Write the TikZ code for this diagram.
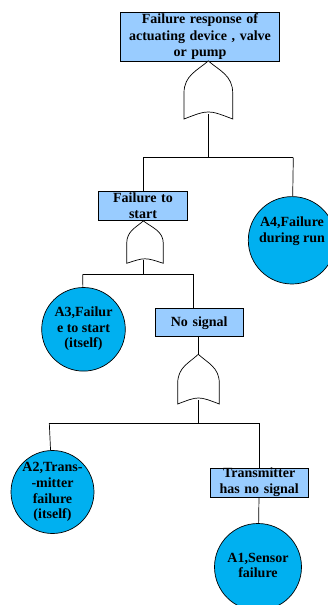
\documentclass[tikz,border=0pt]{standalone}
\usepackage{fontspec}
\setmainfont{Liberation Serif}
\usetikzlibrary{calc}
\definecolor{boxblue}{RGB}{153,204,255}
\definecolor{circblue}{RGB}{0,176,240}
\newcommand{\orgate}[8]{% name, xl, xr, xtop, ytop, yside, ybottom, ybottommid
  \pgfmathsetmacro{\orgA}{#6-0.55*(#6-#5)}
  \pgfmathsetmacro{\orgB}{#5+0.30*(#6-#5)}
  \pgfmathsetmacro{\orgL}{#4-0.45*(#4-#2)}
  \pgfmathsetmacro{\orgR}{#4+0.45*(#3-#4)}
  \pgfmathsetmacro{\orgM}{2*#8-#7}
  \pgfmathsetmacro{\orgX}{(#2+#3)/2}
  \draw[gate] (#2,#7) -- (#2,#6) .. controls (#2,\orgA) and (\orgL,\orgB) .. (#4,#5)
    .. controls (\orgR,\orgB) and (#3,\orgA) .. (#3,#6) -- (#3,#7)
    .. controls (\orgX,\orgM) .. cycle;
  \coordinate (#1-in) at (#4,#5);
  \coordinate (#1-out) at (#4,#8);
}
\begin{document}
\begin{tikzpicture}[x=1pt,y=-1pt,
  every node/.style={font=\fontsize{14}{16}\selectfont\bfseries, align=center, inner sep=0pt},
  evbox/.style={draw=black, line width=0.7pt, fill=boxblue, rectangle},
  basic/.style={draw=black, line width=0.7pt, fill=circblue, circle},
  gate/.style={draw=black, line width=0.7pt, fill=white},
  conn/.style={draw=black, line width=0.7pt}]
\useasboundingbox (0,0) rectangle (328,605);
\clip (0,0) rectangle (328,605);

% events
\node[evbox, minimum width=158.6pt, minimum height=48.3pt, text width=150pt,
      font=\fontsize{14}{16.5}\selectfont\bfseries] (top) at (200,36.8)
  {Failure response of\\actuating device , valve\\or pump};
\node[evbox, minimum width=88.6pt, minimum height=29pt, text width=86pt] (fts) at (143,206.2)
  {Failure to\\start};
\node[evbox, minimum width=88.3pt, minimum height=28pt, text width=86pt] (ns) at (199.2,322.7)
  {No signal};
\node[evbox, minimum width=98.3pt, minimum height=28.3pt, text width=96pt] (tx) at (259.2,482.5)
  {Transmitter\\has no signal};

% basic events
\node[basic, minimum size=87.4pt] (a4) at (292,240.3) {};
\node at (292,231.5) {A4,Failure\\during run};
\node[basic, minimum size=83.6pt] (a3) at (83.5,329.3) {};
\node[font=\fontsize{14}{15.5}\selectfont\bfseries] at (83.5,329) {A3,Failur\\e to start\\(itself)};
\node[basic, minimum size=83pt] (a2) at (52.5,492) {};
\node[font=\fontsize{14}{15.7}\selectfont\bfseries] at (52.5,492) {A2,Trans-\\-mitter\\failure\\(itself)};
\node[basic, minimum size=87pt] (a1) at (258,567) {};
\node[font=\fontsize{14}{15}\selectfont\bfseries] at (258,565.8) {A1,Sensor\\failure};

% gates
\orgate{g1}{184}{232.7}{208.3}{60.9}{93}{119}{114.3}
\orgate{g2}{126.7}{163.3}{143.3}{220.9}{243.5}{263.3}{260.3}
\orgate{g3}{177.7}{219.3}{198.3}{354.3}{383.3}{404}{400}

% connectors
\coordinate (b1) at (208.3,157.5);
\coordinate (b1l) at (143.3,157.5);
\coordinate (b1r) at (293.3,157.5);
\draw[conn] (g1-out) -- (b1);
\draw[conn] (b1l) -- (b1r);
\draw[conn] (b1l) -- (b1l |- fts.north);
\draw[conn] (b1r) -- (a4);

\coordinate (b2) at (143.3,274.3);
\coordinate (b2l) at (82.7,274.3);
\coordinate (b2r) at (193.3,274.3);
\draw[conn] (g2-out) -- (b2);
\draw[conn] (b2l) -- (b2r);
\draw[conn] (b2l) -- (a3);
\draw[conn] (b2r) -- (b2r |- ns.north);

\draw[conn] (ns.south -| g3-in) -- (g3-in);
\coordinate (b3) at (198.3,423.3);
\coordinate (b3l) at (49.3,423.3);
\coordinate (b3r) at (259.3,423.3);
\draw[conn] (g3-out) -- (b3);
\draw[conn] (b3l) -- (b3r);
\draw[conn] (b3l) -- (a2);
\draw[conn] (b3r) -- (b3r |- tx.north);
\draw[conn] (tx) -- (a1);
\end{tikzpicture}
\end{document}
